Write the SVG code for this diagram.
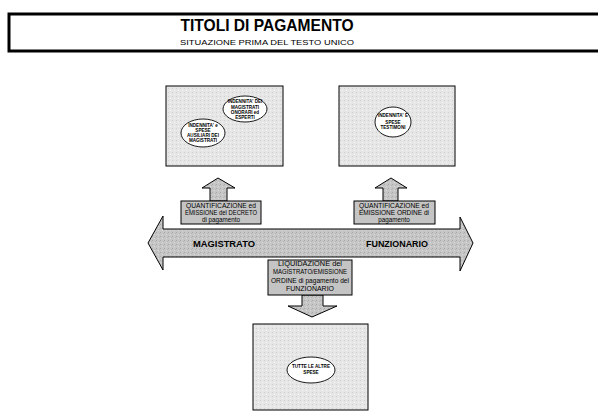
<svg xmlns="http://www.w3.org/2000/svg" width="598" height="417" viewBox="0 0 598 417">
<defs>
<pattern id="dots" width="4" height="4" patternUnits="userSpaceOnUse">
<rect width="4" height="4" fill="#e6e6e6"/>
<rect x="0" y="0" width="1" height="1" fill="#d0d0d0"/>
<rect x="2" y="2" width="1" height="1" fill="#f4f4f4"/>
</pattern>
<pattern id="dots2" width="4" height="4" patternUnits="userSpaceOnUse">
<rect width="4" height="4" fill="#c6c6c6"/>
<rect x="0" y="0" width="1" height="1" fill="#a8a8a8"/>
<rect x="2" y="2" width="1" height="1" fill="#dcdcdc"/>
<rect x="3" y="1" width="1" height="1" fill="#b4b4b4"/>
</pattern>
</defs>
<style>
text{font-family:"Liberation Sans",Arial,sans-serif;fill:#000}
.panel{fill:url(#dots);stroke:#000;stroke-width:1}
.step{fill:#c4c4c4;stroke:#000;stroke-width:1}
.arrow{fill:url(#dots2);stroke:#000;stroke-width:1}
.ell{fill:#fff;stroke:#000;stroke-width:0.9}
.et{font-size:4.6px;text-anchor:middle;font-weight:bold}
.st{font-size:6.3px;text-anchor:middle}
.big{font-size:9px;font-weight:bold;text-anchor:middle}
</style>

<g id="title">
<rect x="9" y="14" width="600" height="37" fill="#fff" stroke="#000" stroke-width="3"/>
<text x="267" y="31" font-size="17" font-weight="bold" text-anchor="middle" textLength="173" lengthAdjust="spacingAndGlyphs">TITOLI DI PAGAMENTO</text>
<text x="267" y="45" font-size="7.5" text-anchor="middle" textLength="174" lengthAdjust="spacingAndGlyphs">SITUAZIONE PRIMA DEL TESTO UNICO</text>
</g>

<g id="connectors">
<polygon class="arrow" points="218,178 235,188 227,188 227,201 210,201 210,188 202,188"/>
<polygon class="arrow" points="391,178 407,188 398,188 398,201 383,201 383,188 375,188"/>
<polygon class="arrow" points="302,295 323,295 323,306 337,306 312,317 288,306 302,306"/>
</g>

<g id="box-magistrato">
<rect class="panel" x="166" y="86" width="117" height="80"/>
<ellipse class="ell" cx="245" cy="109" rx="22" ry="13"/>
<text class="et" x="245" y="103">INDENNITA' DEI</text>
<text class="et" x="245" y="109">MAGISTRATI</text>
<text class="et" x="245" y="114">ONORARI ed</text>
<text class="et" x="245" y="119">ESPERTI</text>
<ellipse class="ell" cx="203" cy="133" rx="22" ry="14"/>
<text class="et" x="203" y="127">INDENNITA' e</text>
<text class="et" x="203" y="132">SPESE</text>
<text class="et" x="203" y="137">AUSILIARI DEI</text>
<text class="et" x="203" y="142">MAGISTRATI</text>
</g>

<g id="box-funzionario">
<rect class="panel" x="339" y="86" width="116" height="80"/>
<ellipse class="ell" cx="393" cy="122" rx="18" ry="15"/>
<text class="et" x="393" y="117">INDENNITA' E</text>
<text class="et" x="393" y="123.5" font-size="5.5">SPESE</text>
<text class="et" x="393" y="129">TESTIMONI</text>
</g>

<g id="step-decreto">
<rect class="step" x="181" y="201" width="80" height="23"/>
<text class="st" x="221" y="207.5" textLength="70" lengthAdjust="spacingAndGlyphs">QUANTIFICAZIONE ed</text>
<text class="st" x="221" y="214.5" textLength="72" lengthAdjust="spacingAndGlyphs">EMISSIONE del DECRETO</text>
<text class="st" x="221" y="221.5">di pagamento</text>
</g>

<g id="step-ordine">
<rect class="step" x="354" y="201" width="81" height="23"/>
<text class="st" x="394" y="207.5" textLength="70" lengthAdjust="spacingAndGlyphs">QUANTIFICAZIONE ed</text>
<text class="st" x="394" y="214.5" textLength="70" lengthAdjust="spacingAndGlyphs">EMISSIONE ORDINE di</text>
<text class="st" x="394" y="221.5">pagamento</text>
</g>

<g id="axis">
<polygon class="arrow" points="148,243 163,216 163,229 460,229 460,217 473,243 460,271 460,257 163,257 163,270"/>
<text class="big" x="224" y="247" textLength="62" lengthAdjust="spacingAndGlyphs">MAGISTRATO</text>
<text class="big" x="397" y="247" textLength="62" lengthAdjust="spacingAndGlyphs">FUNZIONARIO</text>
</g>

<g id="step-liquidazione">
<rect class="step" x="268" y="260" width="84" height="35"/>
<text class="st" x="310" y="266" textLength="64" lengthAdjust="spacingAndGlyphs">LIQUIDAZIONE del</text>
<text class="st" x="310" y="274" textLength="74" lengthAdjust="spacingAndGlyphs">MAGISTRATO/EMISSIONE</text>
<text class="st" x="310" y="283" textLength="78" lengthAdjust="spacingAndGlyphs">ORDINE di pagamento del</text>
<text class="st" x="310" y="291" textLength="48" lengthAdjust="spacingAndGlyphs">FUNZIONARIO</text>
</g>

<g id="box-altre">
<rect class="panel" x="253" y="324" width="115" height="86"/>
<ellipse class="ell" cx="311" cy="370" rx="24" ry="13"/>
<text class="et" x="311" y="368">TUTTE LE ALTRE</text>
<text class="et" x="311" y="374">SPESE</text>
</g>
</svg>
